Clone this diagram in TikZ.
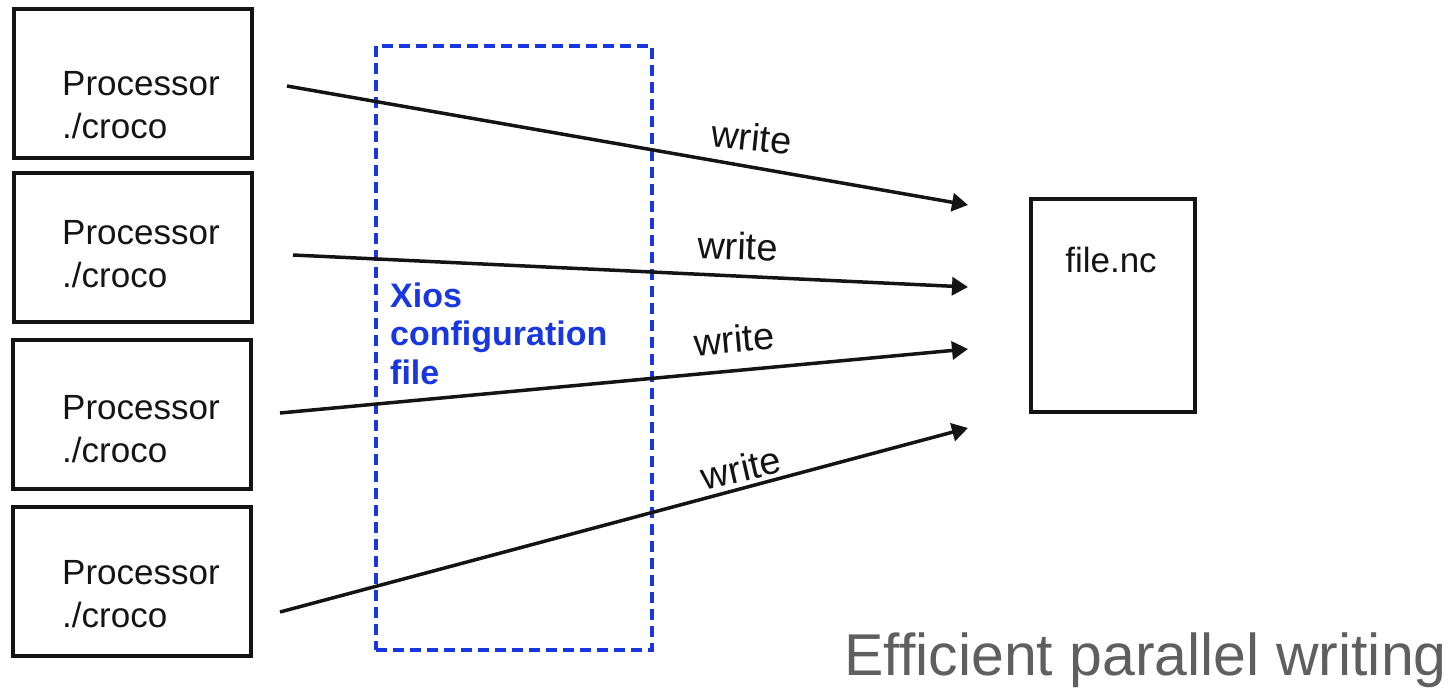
\documentclass[tikz,border=0pt]{standalone}
\usepackage{fontspec}
\setmainfont{Liberation Sans}
\usetikzlibrary{arrows.meta,calc}
\definecolor{xiosblue}{RGB}{25,55,225}
\definecolor{titlegray}{RGB}{95,95,95}
\definecolor{ink}{RGB}{20,20,20}
\begin{document}
\begin{tikzpicture}[x=1pt,y=-1pt,
  procbox/.style={draw=ink, line width=4.2pt, minimum width=238pt, minimum height=149pt,
    inner sep=0pt, anchor=north west},
  proctext/.style={anchor=base west, align=left, inner sep=0pt, text=ink,
    font=\fontsize{35}{42.5}\selectfont},
  filebox/.style={draw=ink, line width=4.2pt, minimum width=164pt, minimum height=213pt,
    inner sep=0pt, anchor=north west},
  conf/.style={draw=xiosblue, line width=3.5pt, dash pattern=on 11pt off 6pt},
  conftext/.style={anchor=base west, align=left, inner sep=0pt, text=xiosblue,
    font=\fontsize{34}{38.5}\selectfont\bfseries},
  writearrow/.style={draw=ink, line width=3.5pt,
    -{Triangle[length=16pt,width=18pt]}},
  wlabel/.style={inner sep=0pt, text=ink, font=\fontsize{38}{40}\selectfont},
]
\useasboundingbox (0,0) rectangle (1452,691);

% processors
\node[procbox] (p1) at (12,7)   {};
\node[procbox] (p2) at (12,171) {};
\node[procbox] (p3) at (11,338) {};
\node[procbox] (p4) at (11,505) {};
% multi-line text: the base anchor sits on the last line
\node[proctext] (t1) at (62,138) {Processor\\./croco};
\node[proctext] (t2) at (62,287) {Processor\\./croco};
\node[proctext] (t3) at (62,462) {Processor\\./croco};
\node[proctext] (t4) at (62,627) {Processor\\./croco};

% XIOS configuration file
\node[conf, minimum width=276pt, minimum height=604pt, inner sep=0pt, anchor=north west]
  (xios) at (374,44) {};
\node[conftext] (xiostext) at (390,384) {Xios\\configuration\\file};

% output file
\node[filebox] (file) at (1029,197) {};
\node[inner sep=0pt, anchor=base, text=ink, font=\fontsize{35}{40}\selectfont]
  (filename) at (1111,272) {file.nc};

% write arrows
\coordinate (s1) at (287,86);
\coordinate (s2) at (293,255);
\coordinate (s3) at (280,413);
\coordinate (s4) at (280,612);
\coordinate (e1) at (968,205);
\coordinate (e2) at (968,287);
\coordinate (e3) at (968,349);
\coordinate (e4) at (968,428);
\draw[writearrow] (s1) -- (e1);
\draw[writearrow] (s2) -- (e2);
\draw[writearrow] (s3) -- (e3);
\draw[writearrow] (s4) -- (e4);

\node[wlabel, rotate=-6] (w1) at (752,137) {write};
\node[wlabel, rotate=-2] (w2) at (738,246) {write};
\node[wlabel, rotate=5]  (w3) at (734,339) {write};
\node[wlabel, rotate=13] (w4) at (741,468) {write};

% caption
\node[anchor=base east, inner sep=0pt, text=titlegray, font=\fontsize{59}{64}\selectfont]
  (caption) at (1447,675) {Efficient parallel writing};
\end{tikzpicture}
\end{document}
